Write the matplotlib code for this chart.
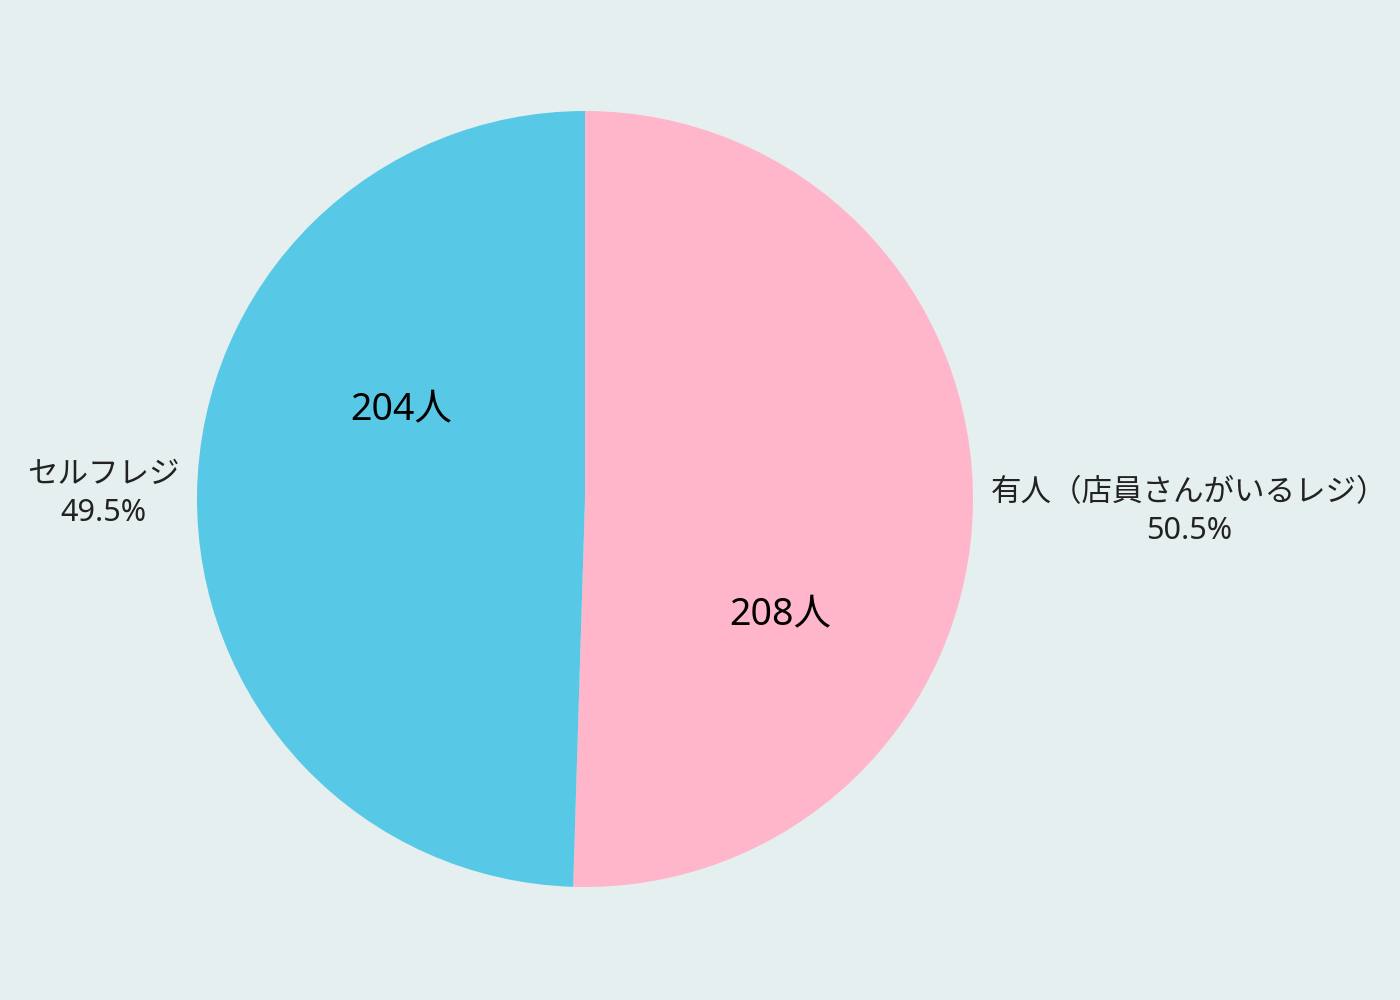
import numpy as np
import matplotlib
matplotlib.use("Agg")
import matplotlib.pyplot as plt

plt.rcParams['font.family'] = ['Noto Sans', 'Noto Sans CJK JP', 'DejaVu Sans']

labels = ['有人（店員さんがいるレジ）', 'セルフレジ']
counts = [208, 204]
colors = ['#FFB6CB', '#57C9E6']
bg = '#E5EFEF'

fig = plt.figure(figsize=(14, 10), dpi=100, facecolor=bg)
ax = fig.add_axes([585/1400 - 388/1400, 1 - 499/1000 - 388/1000, 776/1400, 776/1000])
ax.set_facecolor(bg)
wedges, _ = ax.pie(counts, colors=colors, startangle=90, counterclock=False,
                   radius=1.0, wedgeprops=dict(linewidth=0))
ax.set_xlim(-1, 1)
ax.set_ylim(-1, 1)
ax.axis('off')

total = sum(counts)
for w, lab, c in zip(wedges, labels, counts):
    mid = np.deg2rad((w.theta1 + w.theta2) / 2)
    # inner count label
    a_in = mid - np.deg2rad(27.5)
    r_in = 0.555
    ax.text(r_in * np.cos(a_in) + 0.015, r_in * np.sin(a_in) - 0.035, f'{c}人',
            ha='center', va='center', fontsize=27, color='black')
    # outer label
    x = np.cos(mid)
    y = np.sin(mid)
    side = 1 if x > 0 else -1
    ax.text(side * 1.045, 1.5 * y - 0.01, f'{lab}\n{c / total * 100:.1f}%',
            ha='left' if side > 0 else 'right', va='center', multialignment='center',
            fontsize=22, color='#222222', linespacing=1.36)

fig.savefig('out.png', dpi=100, facecolor=bg)
